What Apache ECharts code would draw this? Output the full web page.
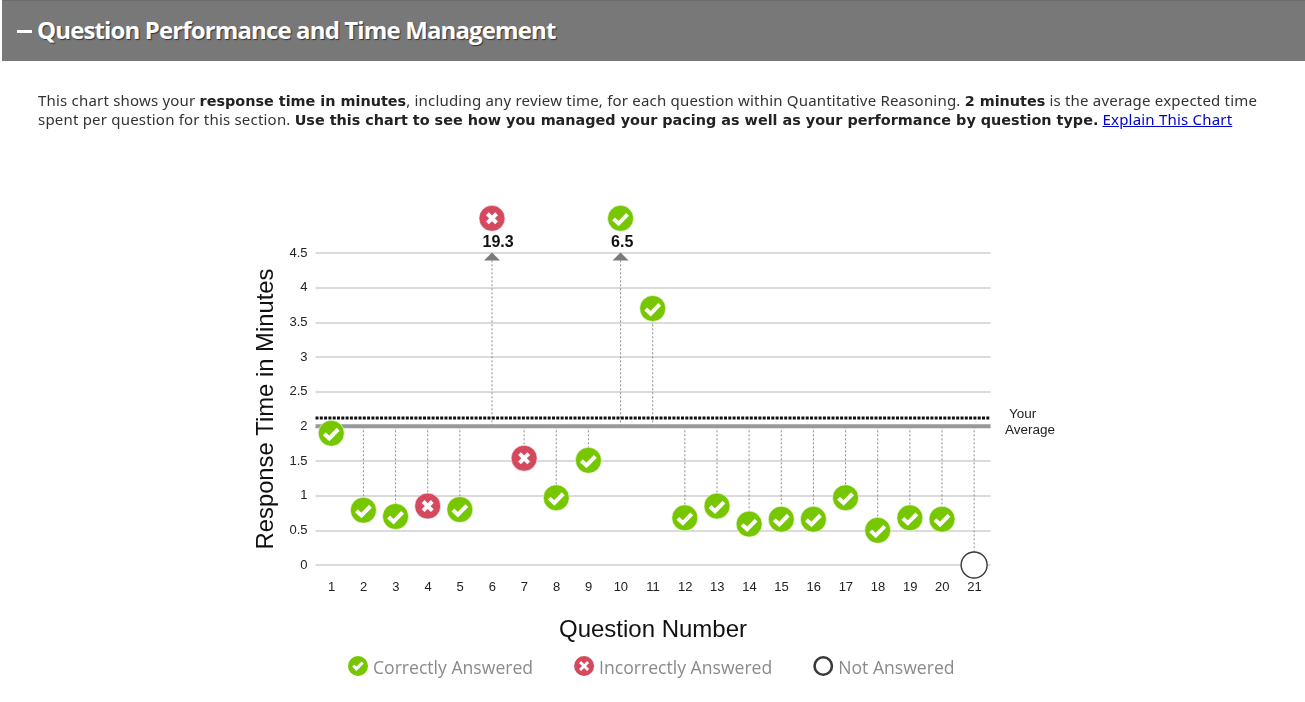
<!DOCTYPE html>
<html><head><meta charset="utf-8">
<script src="https://cdn.jsdelivr.net/npm/echarts@6/dist/echarts.min.js"></script>
<style>
html,body{margin:0;padding:0;background:#fff;width:1305px;height:702px;overflow:hidden}
#band{position:absolute;left:2px;top:0;width:1303px;height:61px;background:#787878;border-top:1px solid #6c6c6c;box-sizing:border-box}
#dash{position:absolute;left:15px;top:29px;width:15px;height:3px;background:#fff}
#title{position:absolute;left:35px;top:12px;font:bold 24px "Open Sans",sans-serif;color:#fff;white-space:nowrap;text-shadow:1px 1px 1px #333;letter-spacing:-.87px}
.t{position:absolute;left:38px;font:15px "Noto Sans",sans-serif;color:#333;white-space:nowrap;line-height:19px;letter-spacing:.2px}
.t b{color:#222;font:bold 14.4px "DejaVu Sans",sans-serif;letter-spacing:0}
.t a{color:#0000cc;text-decoration:underline}
#chart{position:absolute;left:0;top:0;width:1305px;height:702px}
</style></head><body>
<div id="chart"></div>
<div id="band"><div id="dash"></div><div id="title">Question Performance and Time Management</div></div>
<div class="t" style="top:91px">This chart shows your <b>response time in minutes</b>, including any review time, for each question within Quantitative Reasoning. <b>2 minutes</b> is the average expected time</div>
<div class="t" style="top:110px">spent per question for this section. <b>Use this chart to see how you managed your pacing as well as your performance by question type.</b> <a href="#">Explain This Chart</a></div>
<script>
const questionNumbers = ['1','2','3','4','5','6','7','8','9','10','11','12','13','14','15','16','17','18','19','20','21'];
const responseMinutes = [1.9,0.79,0.7,0.85,0.8,19.3,1.54,0.97,1.51,6.5,3.7,0.68,0.85,0.59,0.66,0.66,0.97,0.5,0.68,0.66,0];
const outcomes = ['c','c','c','i','c','i','i','c','c','c','c','c','c','c','c','c','c','c','c','c','n'];
const expectedMinutes = 2;
const yourAverage = 2.12;
const yAxisMax = 4.5;
const offScaleMarkerAt = 5;
const legendNames = {c:'Correctly Answered', i:'Incorrectly Answered', n:'Not Answered'};
const colors = {c:'#76c600', i:'#d5495f', n:'#3a3a3a'};

const circle = 'M10 0A10 10 0 1 1 10 20A10 10 0 1 1 10 0Z';
const icons = {
  c:'path://'+circle+'M4.2 10.6L8.4 15L15.8 7.6L13.6 5.4L8.4 10.4L6.4 8.4Z',
  i:'path://'+circle+'M7 5L5 7L8 10L5 13L7 15L10 12L13 15L15 13L12 10L15 7L13 5L10 8Z',
  n:'path://'+circle+'M10 2.6A7.4 7.4 0 1 0 10 17.4A7.4 7.4 0 1 0 10 2.6Z'
};

function plotValue(v){ return v > yAxisMax ? offScaleMarkerAt : v; }

function markerItem(kind){
  return function(params, api){
    const p = api.coord([api.value(0), plotValue(api.value(1))]);
    const x = p[0]-.3, y = p[1], r = 13;
    const kids = [{type:'circle', shape:{cx:x,cy:y,r:r},
      style:{fill: kind==='n' ? '#fff' : colors[kind], stroke: kind==='n' ? colors.n : '#fff', lineWidth: kind==='n' ? 1.4 : 0.6}}];
    const ink = {stroke:'#fff', lineWidth:4, fill:null, lineCap:'butt', lineJoin:'miter'};
    if(kind==='c') kids.push({type:'polyline', shape:{points:[[x-7,y+0.5],[x-2,y+5.2],[x+7,y-4]]}, style:ink});
    if(kind==='i'){
      kids.push({type:'line', shape:{x1:x-4.6,y1:y-4.6,x2:x+4.6,y2:y+4.6}, style:ink});
      kids.push({type:'line', shape:{x1:x+4.6,y1:y-4.6,x2:x-4.6,y2:y+4.6}, style:ink});
    }
    return {type:'group', children:kids};
  };
}

function markerSeries(kind){
  return {
    type:'custom', name:legendNames[kind], coordinateSystem:'cartesian2d', z:5,
    itemStyle:{color:colors[kind]},
    encode:{x:0,y:1},
    renderItem:markerItem(kind),
    data:questionNumbers.map((q,i)=>[i,responseMinutes[i],outcomes[i]]).filter(d=>d[2]===kind)
  };
}

const option = {
  animation:false,
  grid:{left:315.5,top:253,width:675,height:312},
  xAxis:{type:'category',data:questionNumbers,boundaryGap:true,
    axisLine:{show:false},axisTick:{show:false},
    axisLabel:{margin:16,fontFamily:'Liberation Sans',fontSize:13,color:'#222'},
    name:'Question Number',nameLocation:'middle',nameGap:53,
    nameTextStyle:{fontFamily:'Liberation Sans',fontSize:24,color:'#111'}},
  yAxis:{type:'value',min:0,max:yAxisMax,interval:0.5,
    axisLine:{show:false},axisTick:{show:false},
    axisLabel:{margin:8,fontFamily:'Liberation Sans',fontSize:13,color:'#222',padding:[3,0,0,0]},
    splitLine:{lineStyle:{color:'#cfcfcf',width:1.5}},
    name:'Response Time in Minutes',nameLocation:'middle',nameGap:33,
    nameTextStyle:{fontFamily:'Liberation Sans',fontSize:23.8,color:'#111'}},
  legend:{left:343,top:651,itemWidth:20,itemHeight:20,itemGap:41,
    formatter:'{a|{name}}',
    textStyle:{rich:{a:{fontFamily:'Open Sans',fontSize:17.6,color:'#8a8a8a',padding:[6,0,0,0]}}},
    data:['c','i','n'].map(k=>({name:legendNames[k],icon:icons[k]}))},
  series:[
    {type:'custom',name:'Gap to expected',coordinateSystem:'cartesian2d',z:2,silent:true,
      encode:{x:0,y:1},
      renderItem(params,api){
        const v=api.value(1);
        const a=api.coord([api.value(0),Math.min(v,yAxisMax)]);
        const b=api.coord([api.value(0),expectedMinutes]);
        const lx=a[0]-.3;
        const kids=[{type:'line',shape:{x1:lx,y1:b[1],x2:lx,y2:a[1]},
          style:{stroke:'#8c8c8c',lineWidth:1,lineDash:[2,2]}}];
        if(v>yAxisMax){
          kids.push({type:'polygon',shape:{points:[[lx,a[1]-.5],[lx+8,a[1]+7.5],[lx-8,a[1]+7.5]]},style:{fill:'#7a7a7a'}});
          kids.push({type:'text',style:{x:lx-9.5,y:a[1]-10,text:String(v),align:'left',verticalAlign:'middle',
            fontFamily:'Liberation Sans',fontWeight:'bold',fontSize:16,fill:'#111'}});
        }
        return {type:'group',children:kids};
      },
      data:questionNumbers.map((q,i)=>[i,responseMinutes[i]])},
    {type:'custom',name:'Your Average',coordinateSystem:'cartesian2d',z:3,silent:true,
      encode:{x:0,y:1},
      renderItem(params,api){
        const g=params.coordSys;
        const y=api.coord([0,api.value(0)])[1];
        const e=api.coord([0,api.value(1)])[1];
        const label={fontFamily:'Liberation Sans',fontSize:13.5,fill:'#222',align:'left',verticalAlign:'middle'};
        return {type:'group',children:[
          {type:'line',shape:{x1:g.x,y1:e,x2:g.x+g.width,y2:e},style:{stroke:'#999',lineWidth:4}},
          {type:'line',shape:{x1:g.x,y1:y,x2:g.x+g.width,y2:y},style:{stroke:'#111',lineWidth:3,lineDash:[3,1.3]}},
          {type:'text',style:Object.assign({x:g.x+g.width+18.5,y:y-4,text:'Your'},label)},
          {type:'text',style:Object.assign({x:g.x+g.width+14.5,y:y+12.5,text:'Average'},label)}
        ]};
      },
      data:[[yourAverage,expectedMinutes]]},
    markerSeries('c'),markerSeries('i'),markerSeries('n')
  ]
};
echarts.init(document.getElementById('chart')).setOption(option);
</script>
</body></html>
